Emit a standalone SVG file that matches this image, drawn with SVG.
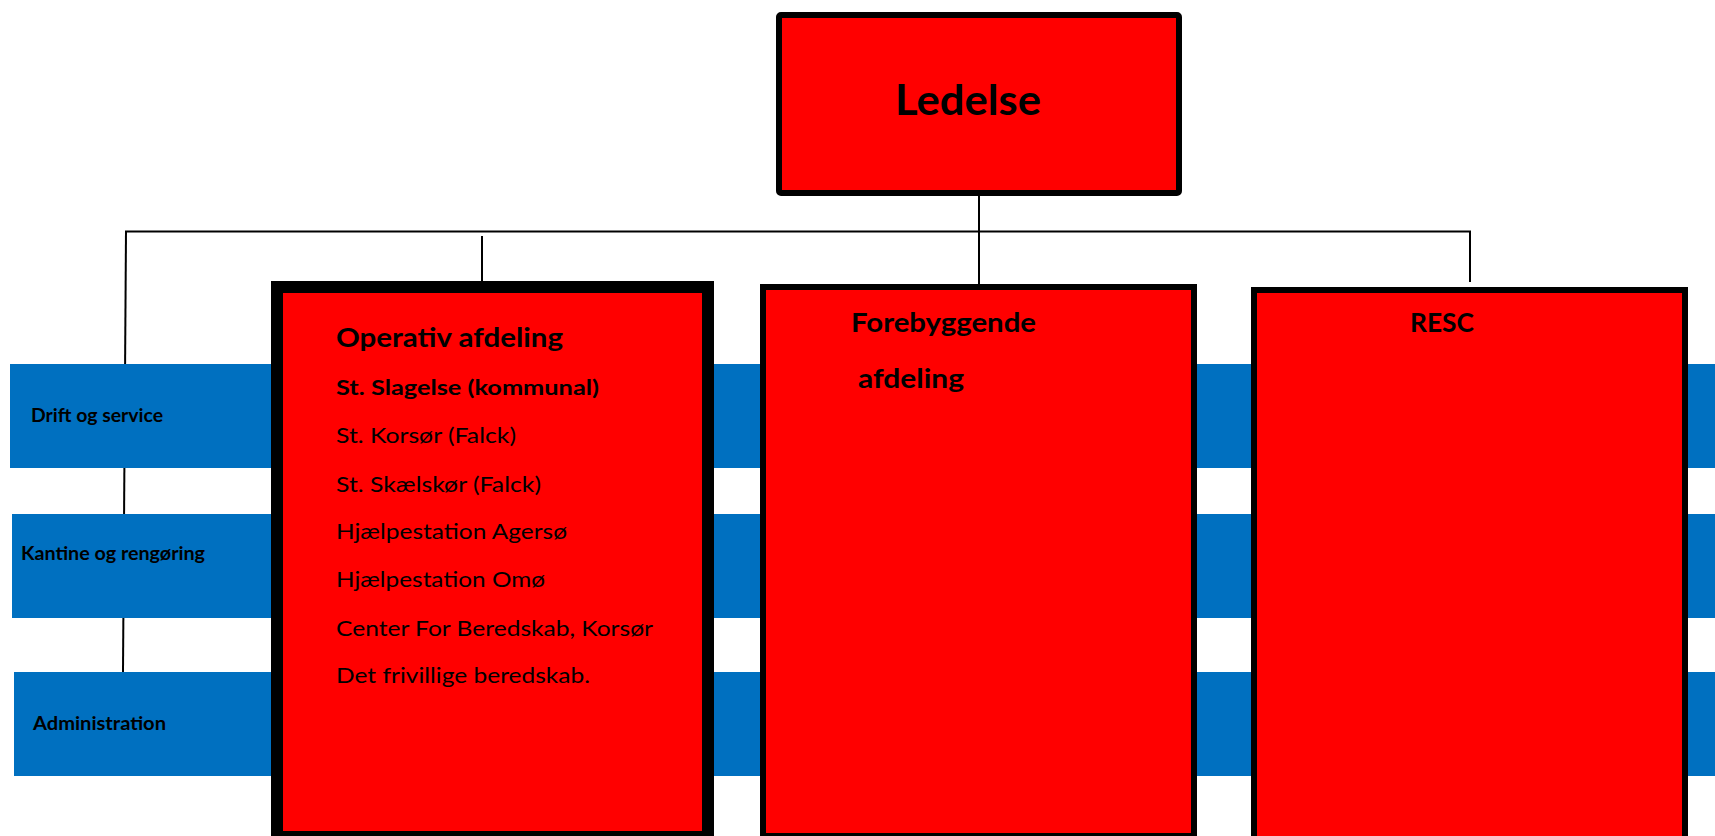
<svg xmlns="http://www.w3.org/2000/svg" width="1715" height="836" viewBox="0 0 1715 836">
<style>
.band{fill:#0070C0}
.box{fill:#FF0000;stroke:#000}
.conn{stroke:#000;stroke-width:2;fill:none}
text{font-family:Lato,"Open Sans","Liberation Sans",sans-serif;fill:#000}
.b{font-weight:bold}
.r{font-weight:normal}
</style>
<rect width="1715" height="836" fill="#fff"/>
<g id="connectors">
<line class="conn" x1="125" y1="231.5" x2="1471" y2="231.5"/>
<line class="conn" x1="979" y1="196" x2="979" y2="285"/>
<line class="conn" x1="482" y1="236" x2="482" y2="282"/>
<line class="conn" x1="1470" y1="231" x2="1470" y2="282"/>
<line class="conn" x1="126" y1="231" x2="123" y2="672"/>
</g>
<g id="band-drift">
<rect class="band" x="10" y="364" width="1705" height="104"/>
<text class="b" x="31" y="422" font-size="18" textLength="132" lengthAdjust="spacingAndGlyphs">Drift og service</text>
</g>
<g id="band-kantine">
<rect class="band" x="12" y="514" width="1703" height="104"/>
<text class="b" x="21" y="560" font-size="18" textLength="184" lengthAdjust="spacingAndGlyphs">Kantine og rengøring</text>
</g>
<g id="band-administration">
<rect class="band" x="14" y="672" width="1701" height="104"/>
<text class="b" x="33" y="730" font-size="18" textLength="133" lengthAdjust="spacingAndGlyphs">Administration</text>
</g>
<g id="node-ledelse">
<rect class="box" x="779" y="15" width="400" height="178" rx="2" stroke-width="6"/>
<text class="b" x="895" y="115" font-size="42" textLength="146" lengthAdjust="spacingAndGlyphs">Ledelse</text>
</g>
<g id="node-operativ">
<rect class="box" x="277" y="287" width="431" height="550" stroke-width="12"/>
<text class="b" x="336" y="347" font-size="26" textLength="227" lengthAdjust="spacingAndGlyphs">Operativ afdeling</text>
<text class="b" x="336" y="395" font-size="21" textLength="263" lengthAdjust="spacingAndGlyphs">St. Slagelse (kommunal)</text>
<text class="r" x="336" y="443" font-size="21" textLength="180" lengthAdjust="spacingAndGlyphs">St. Korsør (Falck)</text>
<text class="r" x="336" y="492" font-size="21" textLength="205" lengthAdjust="spacingAndGlyphs">St. Skælskør (Falck)</text>
<text class="r" x="336" y="539" font-size="21" textLength="231" lengthAdjust="spacingAndGlyphs">Hjælpestation Agersø</text>
<text class="r" x="336" y="587" font-size="21" textLength="209" lengthAdjust="spacingAndGlyphs">Hjælpestation Omø</text>
<text class="r" x="336" y="636" font-size="21" textLength="317" lengthAdjust="spacingAndGlyphs">Center For Beredskab, Korsør</text>
<text class="r" x="336" y="683" font-size="21" textLength="254" lengthAdjust="spacingAndGlyphs">Det frivillige beredskab.</text>
</g>
<g id="node-forebyggende">
<rect class="box" x="763" y="287" width="431" height="549" stroke-width="6"/>
<text class="b" x="851" y="332" font-size="27" textLength="185" lengthAdjust="spacingAndGlyphs">Forebyggende</text>
<text class="b" x="858" y="388" font-size="27" textLength="106" lengthAdjust="spacingAndGlyphs">afdeling</text>
</g>
<g id="node-resc">
<rect class="box" x="1254" y="290" width="431" height="549" stroke-width="6"/>
<text class="b" x="1410" y="332" font-size="27" textLength="64" lengthAdjust="spacingAndGlyphs">RESC</text>
</g>
</svg>
